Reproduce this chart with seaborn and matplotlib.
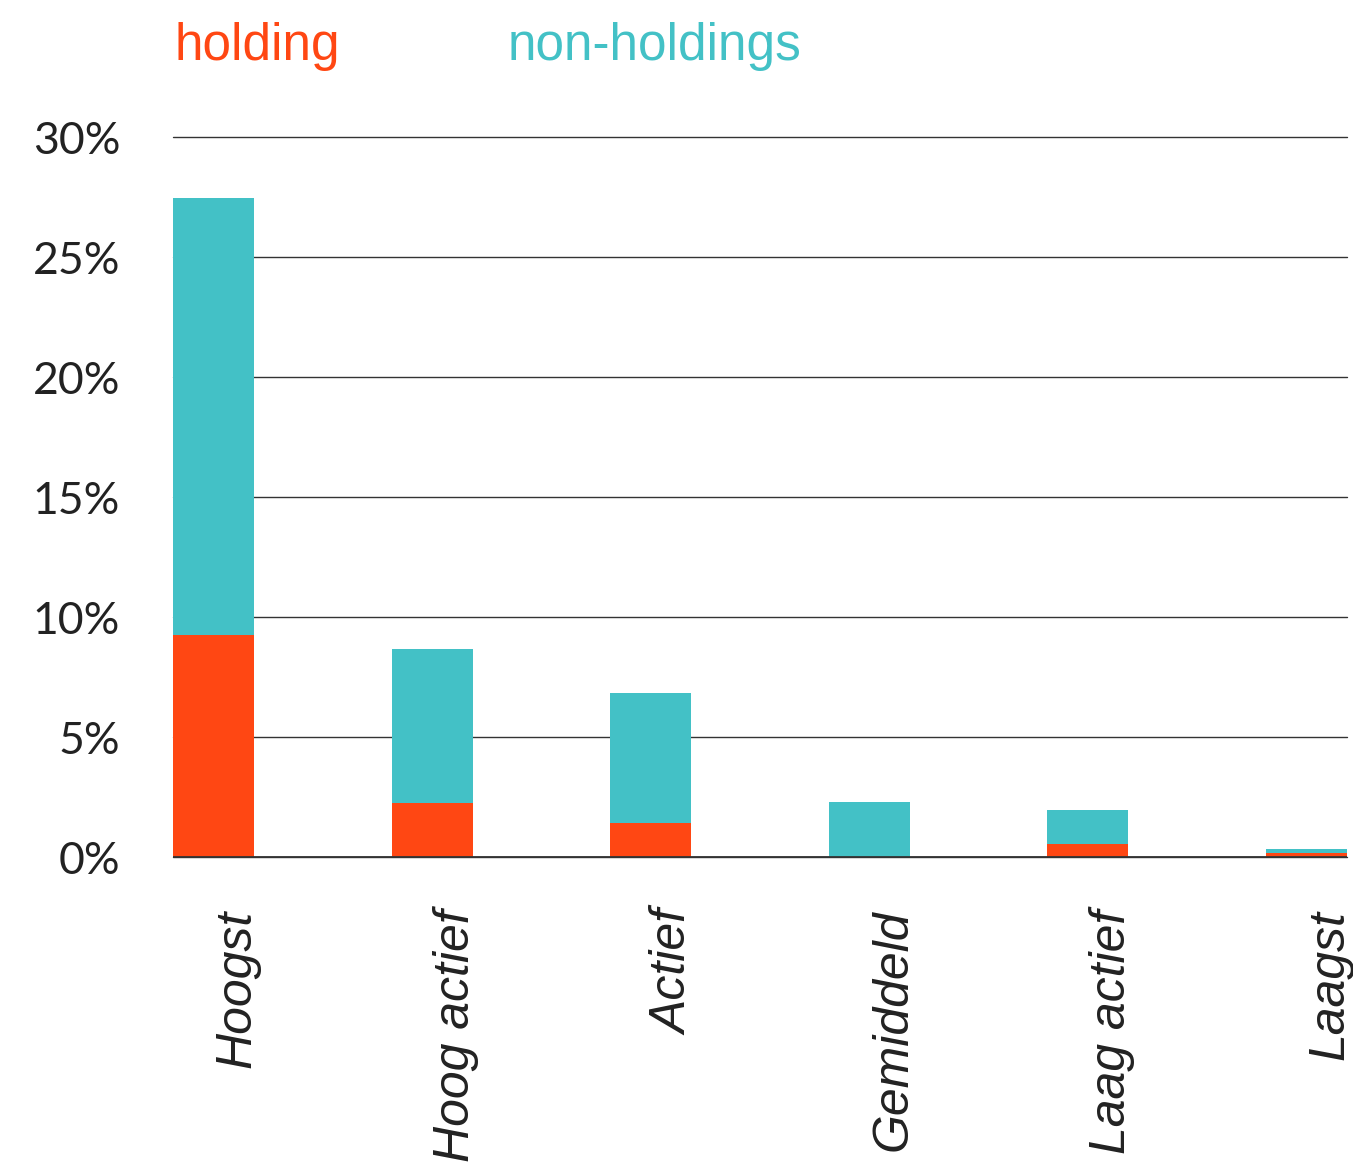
import pandas as pd
import numpy as np
import matplotlib.pyplot as plt
import matplotlib.transforms as mtransforms
import seaborn as sns

# Data (percent)
categories = ['Hoogst', 'Hoog actief', 'Actief', 'Gemiddeld', 'Laag actief', 'Laagst']
holding = [9.25, 2.25, 1.42, 0.0, 0.54, 0.17]
non_holdings = [18.21, 6.42, 5.41, 2.29, 1.42, 0.16]
yticks = [0, 5, 10, 15, 20, 25, 30]

orange = '#FF4713'
teal = '#43C1C6'
bar_w = 0.37

df = pd.DataFrame({'cat': categories, 'holding': holding, 'non': non_holdings})
df['total'] = df['holding'] + df['non']

sns.set_style('white')
plt.rcParams['font.family'] = ['Liberation Sans', 'DejaVu Sans']

fig = plt.figure(figsize=(13.53, 11.67), dpi=100)
ax = fig.add_axes([173 / 1353, 1 - 857 / 1167, (1347 - 173) / 1353, (857 - 137) / 1167])

sns.barplot(data=df, x='cat', y='total', color=teal, width=bar_w, saturation=1,
            ax=ax, zorder=3, linewidth=0)
sns.barplot(data=df, x='cat', y='holding', color=orange, width=bar_w, saturation=1,
            ax=ax, zorder=4, linewidth=0)

ax.set_xlim(-bar_w / 2, len(categories) - 1 + bar_w / 2)
ax.set_ylim(0, 30)
ax.set_yticks(yticks)
ax.set_yticklabels([f'{v}%' for v in yticks], fontsize=32, color='#222222',
                   family=['Lato', 'DejaVu Sans'])
ax.set_xlabel('')
ax.set_ylabel('')
ax.tick_params(axis='both', length=0)
ax.tick_params(axis='y', pad=38)
ax.tick_params(axis='x', pad=38)

for lbl in ax.get_xticklabels():
    lbl.set_rotation(90)
    lbl.set_fontsize(36)
    lbl.set_fontstyle('italic')
    lbl.set_color('#222222')
    lbl.set_ha('center')
    lbl.set_va('top')
    lbl.set_transform(lbl.get_transform() + mtransforms.ScaledTranslation(0.24, 0, fig.dpi_scale_trans))

for s in ax.spines.values():
    s.set_visible(False)

for v in yticks:
    ax.axhline(v, color='#333333', linewidth=1.0, zorder=1, clip_on=False)
ax.axhline(0, color='#333333', linewidth=1.3, zorder=5)

fig.text(175 / 1353, 1 - 60 / 1167, 'holding', color=orange, fontsize=37, ha='left', va='baseline')
fig.text(508 / 1353, 1 - 60 / 1167, 'non-holdings', color=teal, fontsize=37, ha='left', va='baseline')

fig.savefig('out.png', dpi=100, facecolor='white')
